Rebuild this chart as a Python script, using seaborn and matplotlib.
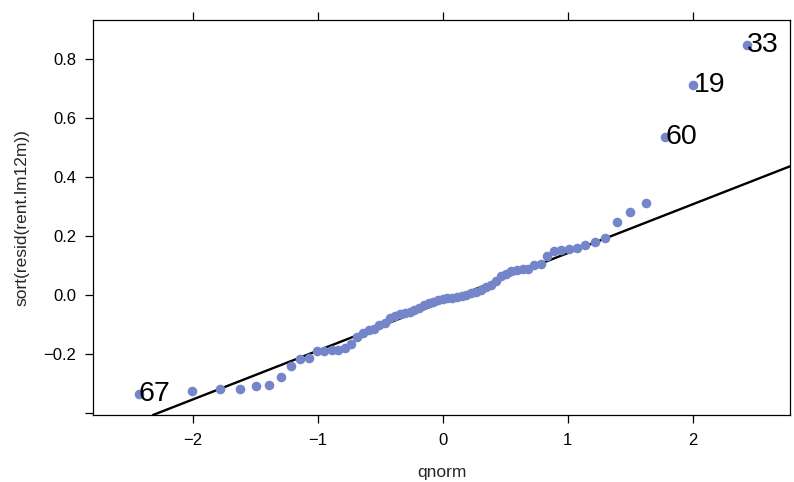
"""
Normal QQ plot of sorted residuals (lattice-style look).
"""
from statistics import NormalDist

import matplotlib
matplotlib.use("Agg")
import matplotlib.pyplot as plt
import numpy as np
import pandas as pd
import seaborn as sns

# sorted residuals
resid_sorted = [
    -0.336, -0.325, -0.319, -0.319, -0.308, -0.305, -0.278, -0.241, -0.217, -0.214,
    -0.190, -0.190, -0.186, -0.186, -0.180, -0.165, -0.142, -0.128, -0.120, -0.115,
    -0.102, -0.095, -0.078, -0.071, -0.064, -0.061, -0.058, -0.051, -0.044, -0.034,
    -0.027, -0.024, -0.017, -0.014, -0.012, -0.010, -0.007, -0.003, 0.000, 0.007,
    0.010, 0.017, 0.027, 0.034, 0.047, 0.064, 0.071, 0.081, 0.085, 0.088,
    0.088, 0.102, 0.105, 0.132, 0.149, 0.153, 0.156, 0.159, 0.169, 0.180,
    0.193, 0.247, 0.281, 0.312, 0.536, 0.712, 0.847,
]
# labelled observations: rank in the sorted list -> observation id
label_ranks = [1, 65, 66, 67]
label_ids = ["67", "60", "19", "33"]

x_ticks = [-2, -1, 0, 1, 2]
y_ticks = [-0.4, -0.2, 0.0, 0.2, 0.4, 0.6, 0.8]
y_tick_labels = ["", "-0.2", "0.0", "0.2", "0.4", "0.6", "0.8"]

n = len(resid_sorted)
nd = NormalDist()
qn = [nd.inv_cdf((i - 0.5) / n) for i in range(1, n + 1)]
df = pd.DataFrame({"qnorm": qn, "resid": resid_sorted})

# qqline through the quartiles
q1, q3 = np.quantile(resid_sorted, [0.25, 0.75])
z1, z3 = nd.inv_cdf(0.25), nd.inv_cdf(0.75)
slope = (q3 - q1) / (z3 - z1)
intercept = q1 - slope * z1

sns.set_theme(style="ticks")
plt.rcParams["font.family"] = ["Liberation Sans", "DejaVu Sans"]
plt.rcParams["axes.unicode_minus"] = True

fig = plt.figure(figsize=(7.94, 4.82), dpi=100)
ax = fig.add_axes([93 / 794, 1 - 415 / 482, 697 / 794, 395 / 482])

dot_col = "#7585C9"
sns.scatterplot(data=df, x="qnorm", y="resid", ax=ax, color=dot_col,
                s=48, linewidth=0, zorder=3)
ax.axline((0, intercept), slope=slope, color="black", lw=1.7, zorder=2)

for r, lab in zip(label_ranks, label_ids):
    ax.text(qn[r - 1], resid_sorted[r - 1], lab, ha="left", va="center",
            fontsize=20.5, color="black", zorder=4)

ax.set_xlim(-2.8, 2.78)
ax.set_ylim(-0.407, 0.932)
ax.set_xticks(x_ticks)
ax.set_xticklabels([str(t).replace("-", "\u2212") for t in x_ticks])
ax.set_yticks(y_ticks)
ax.set_yticklabels([t.replace("-", "\u2212") for t in y_tick_labels])

for side in ["top", "bottom", "left", "right"]:
    ax.spines[side].set_visible(True)
    ax.spines[side].set_color("black")
    ax.spines[side].set_linewidth(0.9)

ax.tick_params(axis="x", which="both", top=True, bottom=True, labeltop=False,
               direction="out", length=6, width=0.9, pad=7, labelsize=12,
               colors="black")
ax.tick_params(axis="y", which="both", left=True, right=False,
               direction="out", length=6, width=0.9, pad=6, labelsize=12,
               colors="black")

ax.set_xlabel("qnorm", fontsize=12.5, labelpad=12)
ax.set_ylabel("sort(resid(rent.lm12m))", fontsize=12.5, labelpad=10)
ax.grid(False)

fig.savefig("out.png", dpi=100)
